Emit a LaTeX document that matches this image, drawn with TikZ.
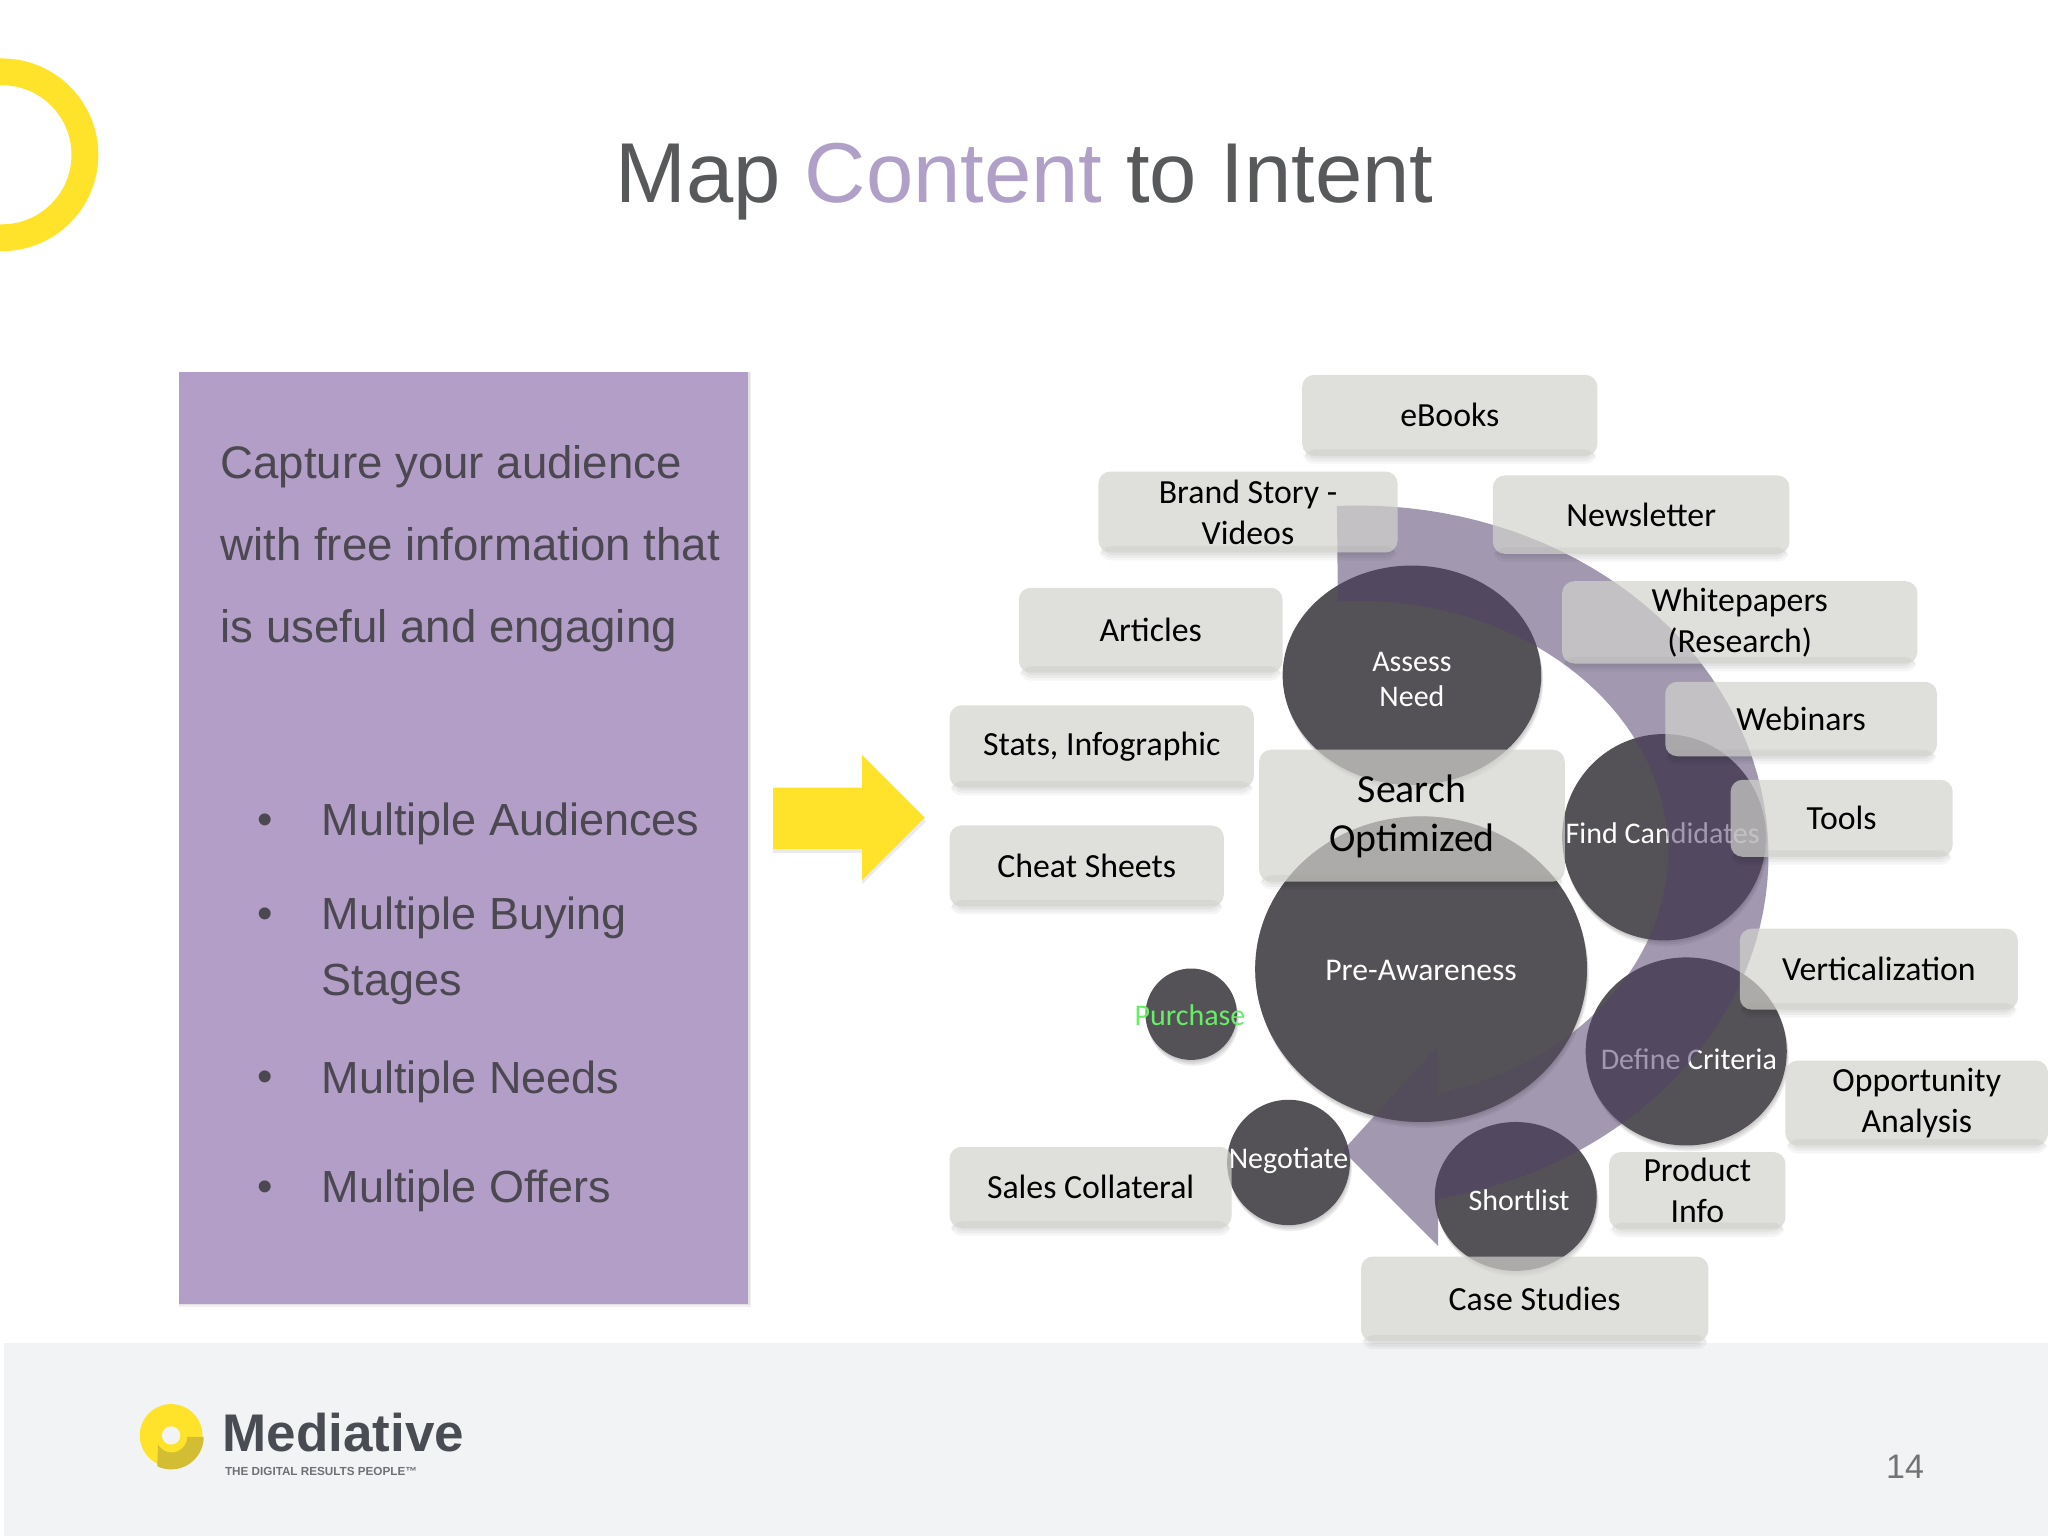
\documentclass[tikz,border=0pt]{standalone}
\usepackage{fontspec}
\setmainfont{Liberation Sans}
\newfontfamily\calfont{Carlito}
\usetikzlibrary{shapes.geometric}
\definecolor{panelpurple}{RGB}{179,158,199}
\definecolor{titlegrey}{RGB}{88,89,91}
\definecolor{contentpurple}{RGB}{176,160,200}
\definecolor{bodytext}{RGB}{76,72,82}
\definecolor{footerbg}{RGB}{242,243,245}
\definecolor{brandyellow}{RGB}{255,227,43}
\definecolor{darkdisc}{RGB}{84,82,86}
\definecolor{arrowviolet}{RGB}{81,64,106}
\definecolor{boxgrey}{RGB}{210,210,205}
\definecolor{logotext}{RGB}{74,76,83}
\definecolor{greentext}{RGB}{102,238,102}
\tikzset{
  x=0.65306pt,y=-0.65306pt,
  contentbox/.style={rectangle,rounded corners=6pt,fill=boxgrey,fill opacity=.7,text opacity=1,inner sep=0pt,
    align=center,text=black,font=\calfont\fontsize{16.9}{20.5}\selectfont},
  bigboxlabel/.style={inner sep=0pt,align=center,text=black,font=\calfont\fontsize{19.9}{24.2}\selectfont},
  softshadow/.style={fill=black,fill opacity=.04,rounded corners=5pt},
  discnode/.style={ellipse,fill=darkdisc,inner sep=0pt},
  disclabel/.style={text=white,align=center,inner sep=0pt,font=\calfont\fontsize{15}{17.6}\selectfont},
  prelabel/.style={disclabel,font=\calfont\fontsize{15.8}{18}\selectfont},
  bodyline/.style={anchor=base west,inner sep=0pt,text=bodytext,font=\fontsize{22.8}{27}\selectfont},
  listline/.style={anchor=base west,inner sep=0pt,text=bodytext,font=\fontsize{22.5}{27}\selectfont},
  bulletmark/.style={anchor=base,inner sep=0pt,text=bodytext,font=\fontsize{22}{26}\selectfont},
}
\newcommand{\cbox}[6]{%
  \fill[softshadow] (#2+3,#5-5) rectangle (#4-3,#5+2);
  \fill[softshadow] (#2+2,#5-5) rectangle (#4-2,#5+4);
  \fill[softshadow] (#2+1,#5-5) rectangle (#4-1,#5+6);
  \node[contentbox,minimum width={(#4-#2)*0.65306pt},minimum height={(#5-#3)*0.65306pt}] (#1) at ({(#2+#4)/2},{(#3+#5)/2}) {#6};}
\newcommand{\cdisc}[8]{% name cx cy rx ry dx dy text
  \fill[black,fill opacity=.07] (#2+.5,#3+1.5) ellipse ({#4} and {#5});
  \fill[black,fill opacity=.07] (#2+1,#3+3) ellipse ({#4} and {#5});
  \fill[black,fill opacity=.07] (#2+1.5,#3+4.5) ellipse ({#4} and {#5});
  \node[discnode,minimum width={2*#4*0.65306pt},minimum height={2*#5*0.65306pt},
    label={[disclabel,xshift={#6*0.65306pt},yshift={-#7*0.65306pt}]center:{#8}}] (#1) at (#2,#3) {};}
\begin{document}
\begin{tikzpicture}
\useasboundingbox (0,0) rectangle (1568,1176);
\fill[white] (0,0) rectangle (1568,1176);
% footer
\fill[footerbg] (3,1028) rectangle (1568,1176);
% ring
\draw[brandyellow,line width=13.4pt] (1.5,118.5) circle (63.5);
% title
\node[anchor=base,inner sep=0pt,text=titlegrey,font=\fontsize{42.5}{50}\selectfont] (title) at (784.5,155)
  {Map \textcolor{contentpurple}{Content} to Intent};
% left panel
\fill[black,fill opacity=.06] (137,285) rectangle (575,1001);
\fill[black,fill opacity=.06] (137,285) rectangle (574,999.5);
\fill[panelpurple] (137,285) rectangle (573,998);
\node[bodyline] (l1) at (168.5,366) {Capture your audience};
\node[bodyline] (l2) at (168.5,429) {with free information that};
\node[bodyline] (l3) at (168.5,492) {is useful and engaging};
\node[bulletmark] (b1) at (203,639) {•};
\node[bulletmark] (b2) at (203,711) {•};
\node[bulletmark] (b3) at (203,836) {•};
\node[bulletmark] (b4) at (203,920) {•};
\node[listline] (t1) at (246,640) {Multiple Audiences};
\node[listline] (t2) at (246,712) {Multiple Buying};
\node[listline] (t2b) at (246,762) {Stages};
\node[listline] (t3) at (246,837) {Multiple Needs};
\node[listline] (t4) at (246,921) {Multiple Offers};
% yellow arrow
\fill[black,fill opacity=.08] (592,606) -- (660,606) -- (660,581) -- (709,629) -- (660,677) -- (660,653) -- (592,653) -- cycle;
\fill[brandyellow] (592,603) -- (660,603) -- (660,578) -- (708,626) -- (660,674) -- (660,650) -- (592,650) -- cycle;
% discs
\cdisc{assess}{1081}{517}{99}{84}{0}{3}{Assess\\Need}
\cdisc{find}{1274}{641}{78}{79}{-1}{-3}{Find Candidates}
\cdisc{pre}{1088}{742}{127}{117}{0}{1}{}
\cdisc{purchase}{912}{776.5}{35}{35}{-1}{1}{\textcolor{greentext}{Purchase}}
\cdisc{define}{1291}{805}{77}{72}{2}{6}{Define Criteria}
\cdisc{negotiate}{986.5}{890}{47}{48}{0}{-1}{Negotiate}
\cdisc{shortlist}{1160.5}{916}{62}{57}{2.5}{3}{Shortlist}
% circular arrow
\fill[arrowviolet,fill opacity=.53]
  plot[domain=-93:78.8,samples=70] ({1040+314*cos(\x)},{655+268*sin(\x)})
  -- (1101,954) -- (1028,881) -- (1100,802) -- (1101,837)
  -- plot[domain=75.2:-93.8,samples=70] ({1040+237*cos(\x)},{652+192*sin(\x)}) -- cycle;
% the large disc keeps most of its own tone over the arrow
\fill[darkdisc,fill opacity=.45] (pre.center) ellipse (127 and 117);
\node[prelabel] (prelab) at (1088,743) {Pre-Awareness};
% content boxes
\cbox{ebooks}{997}{287}{1223}{349}{eBooks}
\cbox{brand}{841}{361}{1070}{423}{Brand Story -\\Videos}
\cbox{news}{1143}{364}{1370}{424}{Newsletter}
\cbox{articles}{780}{450}{982}{515}{Articles}
\cbox{white}{1196}{445}{1468}{508}{Whitepapers\\(Research)}
\cbox{stats}{727}{540}{960}{603}{Stats, Infographic}
\cbox{webinars}{1275}{522}{1483}{579}{Webinars}
\cbox{search}{964}{574}{1198}{675}{}
\node[bigboxlabel] (searchlab) at (1081,625) {Search\\Optimized};
\cbox{tools}{1325}{597}{1495}{656}{Tools}
\cbox{cheat}{727}{632}{937}{694}{Cheat Sheets}
\cbox{vert}{1332}{711}{1545}{773}{Verticalization}
\cbox{opp}{1367}{812}{1568}{877}{Opportunity\\Analysis}
\cbox{product}{1232}{882}{1367}{941}{Product\\Info}
\cbox{sales}{727}{878}{943}{940}{Sales Collateral}
\cbox{cases}{1042}{962}{1308}{1027}{Case Studies}
% logo
\fill[brandyellow] (131,1099) circle (24);
\fill[brandyellow!75!logotext] (156,1100) arc (0:115:25) -- (121,1106) arc (150:0:12) -- cycle;
\fill[footerbg] (131,1099) circle (7);
\node[anchor=base west,inner sep=0pt,text=logotext,font=\bfseries\fontsize{26.5}{30}\selectfont] (logo) at (170,1111) {Mediative};
\node[anchor=base west,inner sep=0pt,text=logotext!80,font=\bfseries\fontsize{5.85}{7}\selectfont] (tag) at (172,1130) {THE DIGITAL RESULTS PEOPLE™};
\node[anchor=base,inner sep=0pt,text=black!55,font=\fontsize{17}{20}\selectfont] (page) at (1458.5,1132) {14};
\end{tikzpicture}
\end{document}
